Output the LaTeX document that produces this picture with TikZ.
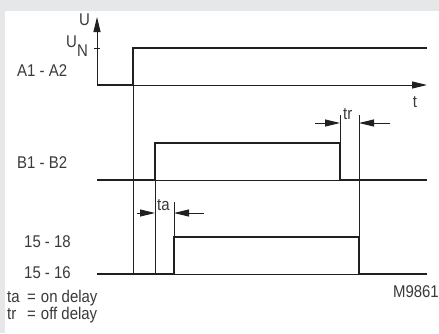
\documentclass[tikz,border=0pt]{standalone}
\usepackage{fontspec}
\setmainfont{Liberation Sans}[FakeStretch=0.88]
\usetikzlibrary{arrows.meta}
\definecolor{ink}{HTML}{231F20}
\definecolor{framegrey}{HTML}{E6E7E9}
\definecolor{txt}{HTML}{3A3A3A}
\tikzset{sig/.style = {line width=2.6pt, ink},
         guide/.style = {line width=0.9pt, ink},
         dimarrow/.style = {guide, -{Triangle[length=15pt,width=7pt]}},
         lbl/.style = {txt, font=\fontsize{17}{19}\selectfont, inner sep=0pt, anchor=base west}}

\begin{document}
\begin{tikzpicture}[x=1pt,y=-1pt]
      \fill[framegrey] (0,0) rectangle (439,333);
      \fill[white] (5,11) rectangle (439,333);
      % axes
      \draw [dimarrow] (97,85) -- (97,17);
      \draw [dimarrow] (133,85) -- (427,85);
      \draw [guide] (94,48) -- (100,48);
      \node [lbl] (u) at (79,25) {U};
      \node [lbl] (un) at (66,47) {U\raisebox{-9pt}{N}};
      \node [lbl, anchor=base] (t) at (415,107) {t};
      % A1 - A2
      \draw [sig] (97,85) -- (133,85) -- (133,48) -- (427,48);
      \node [lbl] (a) at (17,76) {A1 - A2};
      % B1 - B2
      \draw [sig] (97,180) -- (155,180) -- (155,143) -- (340,143) -- (340,180) -- (427,180);
      \draw [guide] (155,180) -- (340,180);
      \node [lbl] (b) at (17,168) {B1 - B2};
      % 15 - 18 / 15 - 16
      \draw [sig] (97,274) -- (174,274) -- (174,237) -- (359,237) -- (359,274) -- (427,274);
      \draw [guide] (174,274) -- (359,274);
      \node [lbl] (c) at (24,247) {15 - 18};
      \node [lbl] (d) at (24,278) {15 - 16};
      % guide lines
      \draw [guide] (133,48) -- (133,274);
      \draw [guide] (155,143) -- (155,274);
      \draw [guide] (174,237) -- (174,202);
      \draw [guide] (340,143) -- (340,115);
      \draw [guide] (359,115) -- (359,274);
      % delays
      \draw [dimarrow] (137,213) -- (155,213);
      \draw [dimarrow] (204,213) -- (174,213);
      \node [lbl] (ta) at (157,210) {ta};
      \draw [dimarrow] (315,123) -- (340,123);
      \draw [dimarrow] (390,123) -- (359,123);
      \node [lbl] (tr) at (343,119) {tr};
      \node [lbl, anchor=base east] (m) at (439,297) {M9861};
      \node [lbl] (k1) at (7,302) {\makebox[20pt][l]{ta}=\hspace{5pt}on delay};
      \node [lbl] (k2) at (7,319) {\makebox[20pt][l]{tr}=\hspace{5pt}off delay};
\end{tikzpicture}
\end{document}
